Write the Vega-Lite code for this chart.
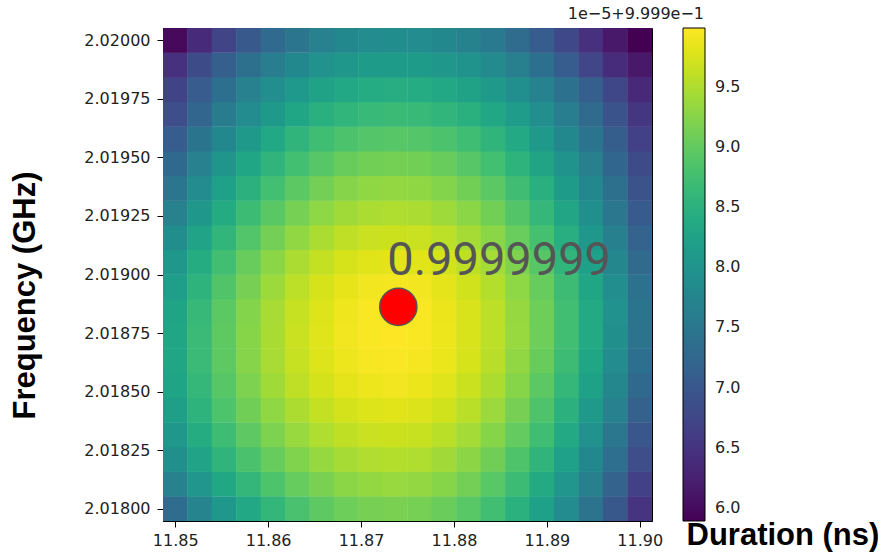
{
"$schema": "https://vega.github.io/schema/vega-lite/v6.json",
"width": 489,
"height": 493,
"autosize": {"type": "none"},
"padding": {"left": 163, "top": 28, "right": 235, "bottom": 31},
"background": "white",
"config": {"view": {"stroke": "black", "strokeWidth": 1}},
"title": {"text": "1e−5+9.999e−1", "anchor": "end", "frame": "group", "dx": 52, "fontSize": 16, "font": "DejaVu Sans", "fontWeight": "normal", "color": "#222", "offset": 6},
"datasets": {
"grid": [
{"duration":11.85,"frequency":2.018,"value":7.33},{"duration":11.852632,"frequency":2.018,"value":7.72},{"duration":11.855263,"frequency":2.018,"value":8.06},{"duration":11.857895,"frequency":2.018,"value":8.35},{"duration":11.860526,"frequency":2.018,"value":8.60},{"duration":11.863158,"frequency":2.018,"value":8.81},{"duration":11.865789,"frequency":2.018,"value":8.97},{"duration":11.868421,"frequency":2.018,"value":9.08},{"duration":11.871053,"frequency":2.018,"value":9.15},{"duration":11.873684,"frequency":2.018,"value":9.17},{"duration":11.876316,"frequency":2.018,"value":9.14},{"duration":11.878947,"frequency":2.018,"value":9.06},{"duration":11.881579,"frequency":2.018,"value":8.93},{"duration":11.884211,"frequency":2.018,"value":8.74},{"duration":11.886842,"frequency":2.018,"value":8.50},{"duration":11.889474,"frequency":2.018,"value":8.21},{"duration":11.892105,"frequency":2.018,"value":7.86},{"duration":11.894737,"frequency":2.018,"value":7.46},{"duration":11.897368,"frequency":2.018,"value":7.01},{"duration":11.9,"frequency":2.018,"value":6.50},
{"duration":11.85,"frequency":2.0181053,"value":7.68},{"duration":11.852632,"frequency":2.0181053,"value":8.03},{"duration":11.855263,"frequency":2.0181053,"value":8.34},{"duration":11.857895,"frequency":2.0181053,"value":8.61},{"duration":11.860526,"frequency":2.0181053,"value":8.84},{"duration":11.863158,"frequency":2.0181053,"value":9.03},{"duration":11.865789,"frequency":2.0181053,"value":9.17},{"duration":11.868421,"frequency":2.0181053,"value":9.28},{"duration":11.871053,"frequency":2.0181053,"value":9.34},{"duration":11.873684,"frequency":2.0181053,"value":9.36},{"duration":11.876316,"frequency":2.0181053,"value":9.33},{"duration":11.878947,"frequency":2.0181053,"value":9.25},{"duration":11.881579,"frequency":2.0181053,"value":9.12},{"duration":11.884211,"frequency":2.0181053,"value":8.93},{"duration":11.886842,"frequency":2.0181053,"value":8.69},{"duration":11.889474,"frequency":2.0181053,"value":8.39},{"duration":11.892105,"frequency":2.0181053,"value":8.04},{"duration":11.894737,"frequency":2.0181053,"value":7.63},{"duration":11.897368,"frequency":2.0181053,"value":7.17},{"duration":11.9,"frequency":2.0181053,"value":6.66},
{"duration":11.85,"frequency":2.0182105,"value":7.92},{"duration":11.852632,"frequency":2.0182105,"value":8.26},{"duration":11.855263,"frequency":2.0182105,"value":8.56},{"duration":11.857895,"frequency":2.0182105,"value":8.82},{"duration":11.860526,"frequency":2.0182105,"value":9.03},{"duration":11.863158,"frequency":2.0182105,"value":9.21},{"duration":11.865789,"frequency":2.0182105,"value":9.35},{"duration":11.868421,"frequency":2.0182105,"value":9.45},{"duration":11.871053,"frequency":2.0182105,"value":9.51},{"duration":11.873684,"frequency":2.0182105,"value":9.53},{"duration":11.876316,"frequency":2.0182105,"value":9.50},{"duration":11.878947,"frequency":2.0182105,"value":9.42},{"duration":11.881579,"frequency":2.0182105,"value":9.29},{"duration":11.884211,"frequency":2.0182105,"value":9.10},{"duration":11.886842,"frequency":2.0182105,"value":8.86},{"duration":11.889474,"frequency":2.0182105,"value":8.57},{"duration":11.892105,"frequency":2.0182105,"value":8.22},{"duration":11.894737,"frequency":2.0182105,"value":7.81},{"duration":11.897368,"frequency":2.0182105,"value":7.36},{"duration":11.9,"frequency":2.0182105,"value":6.85},
{"duration":11.85,"frequency":2.0183158,"value":8.08},{"duration":11.852632,"frequency":2.0183158,"value":8.42},{"duration":11.855263,"frequency":2.0183158,"value":8.71},{"duration":11.857895,"frequency":2.0183158,"value":8.97},{"duration":11.860526,"frequency":2.0183158,"value":9.19},{"duration":11.863158,"frequency":2.0183158,"value":9.36},{"duration":11.865789,"frequency":2.0183158,"value":9.50},{"duration":11.868421,"frequency":2.0183158,"value":9.60},{"duration":11.871053,"frequency":2.0183158,"value":9.66},{"duration":11.873684,"frequency":2.0183158,"value":9.68},{"duration":11.876316,"frequency":2.0183158,"value":9.65},{"duration":11.878947,"frequency":2.0183158,"value":9.57},{"duration":11.881579,"frequency":2.0183158,"value":9.44},{"duration":11.884211,"frequency":2.0183158,"value":9.25},{"duration":11.886842,"frequency":2.0183158,"value":9.01},{"duration":11.889474,"frequency":2.0183158,"value":8.72},{"duration":11.892105,"frequency":2.0183158,"value":8.37},{"duration":11.894737,"frequency":2.0183158,"value":7.96},{"duration":11.897368,"frequency":2.0183158,"value":7.51},{"duration":11.9,"frequency":2.0183158,"value":7.00},
{"duration":11.85,"frequency":2.0184211,"value":8.20},{"duration":11.852632,"frequency":2.0184211,"value":8.54},{"duration":11.855263,"frequency":2.0184211,"value":8.84},{"duration":11.857895,"frequency":2.0184211,"value":9.10},{"duration":11.860526,"frequency":2.0184211,"value":9.31},{"duration":11.863158,"frequency":2.0184211,"value":9.49},{"duration":11.865789,"frequency":2.0184211,"value":9.63},{"duration":11.868421,"frequency":2.0184211,"value":9.73},{"duration":11.871053,"frequency":2.0184211,"value":9.79},{"duration":11.873684,"frequency":2.0184211,"value":9.81},{"duration":11.876316,"frequency":2.0184211,"value":9.78},{"duration":11.878947,"frequency":2.0184211,"value":9.70},{"duration":11.881579,"frequency":2.0184211,"value":9.57},{"duration":11.884211,"frequency":2.0184211,"value":9.38},{"duration":11.886842,"frequency":2.0184211,"value":9.15},{"duration":11.889474,"frequency":2.0184211,"value":8.85},{"duration":11.892105,"frequency":2.0184211,"value":8.51},{"duration":11.894737,"frequency":2.0184211,"value":8.11},{"duration":11.897368,"frequency":2.0184211,"value":7.66},{"duration":11.9,"frequency":2.0184211,"value":7.15},
{"duration":11.85,"frequency":2.0185263,"value":8.28},{"duration":11.852632,"frequency":2.0185263,"value":8.62},{"duration":11.855263,"frequency":2.0185263,"value":8.92},{"duration":11.857895,"frequency":2.0185263,"value":9.19},{"duration":11.860526,"frequency":2.0185263,"value":9.41},{"duration":11.863158,"frequency":2.0185263,"value":9.59},{"duration":11.865789,"frequency":2.0185263,"value":9.73},{"duration":11.868421,"frequency":2.0185263,"value":9.83},{"duration":11.871053,"frequency":2.0185263,"value":9.89},{"duration":11.873684,"frequency":2.0185263,"value":9.91},{"duration":11.876316,"frequency":2.0185263,"value":9.88},{"duration":11.878947,"frequency":2.0185263,"value":9.80},{"duration":11.881579,"frequency":2.0185263,"value":9.67},{"duration":11.884211,"frequency":2.0185263,"value":9.49},{"duration":11.886842,"frequency":2.0185263,"value":9.25},{"duration":11.889474,"frequency":2.0185263,"value":8.96},{"duration":11.892105,"frequency":2.0185263,"value":8.62},{"duration":11.894737,"frequency":2.0185263,"value":8.23},{"duration":11.897368,"frequency":2.0185263,"value":7.78},{"duration":11.9,"frequency":2.0185263,"value":7.28},
{"duration":11.85,"frequency":2.0186316,"value":8.32},{"duration":11.852632,"frequency":2.0186316,"value":8.67},{"duration":11.855263,"frequency":2.0186316,"value":8.97},{"duration":11.857895,"frequency":2.0186316,"value":9.24},{"duration":11.860526,"frequency":2.0186316,"value":9.46},{"duration":11.863158,"frequency":2.0186316,"value":9.64},{"duration":11.865789,"frequency":2.0186316,"value":9.79},{"duration":11.868421,"frequency":2.0186316,"value":9.89},{"duration":11.871053,"frequency":2.0186316,"value":9.95},{"duration":11.873684,"frequency":2.0186316,"value":9.97},{"duration":11.876316,"frequency":2.0186316,"value":9.94},{"duration":11.878947,"frequency":2.0186316,"value":9.87},{"duration":11.881579,"frequency":2.0186316,"value":9.74},{"duration":11.884211,"frequency":2.0186316,"value":9.56},{"duration":11.886842,"frequency":2.0186316,"value":9.32},{"duration":11.889474,"frequency":2.0186316,"value":9.04},{"duration":11.892105,"frequency":2.0186316,"value":8.70},{"duration":11.894737,"frequency":2.0186316,"value":8.31},{"duration":11.897368,"frequency":2.0186316,"value":7.87},{"duration":11.9,"frequency":2.0186316,"value":7.38},
{"duration":11.85,"frequency":2.0187368,"value":8.32},{"duration":11.852632,"frequency":2.0187368,"value":8.67},{"duration":11.855263,"frequency":2.0187368,"value":8.98},{"duration":11.857895,"frequency":2.0187368,"value":9.25},{"duration":11.860526,"frequency":2.0187368,"value":9.47},{"duration":11.863158,"frequency":2.0187368,"value":9.66},{"duration":11.865789,"frequency":2.0187368,"value":9.80},{"duration":11.868421,"frequency":2.0187368,"value":9.91},{"duration":11.871053,"frequency":2.0187368,"value":9.97},{"duration":11.873684,"frequency":2.0187368,"value":9.99},{"duration":11.876316,"frequency":2.0187368,"value":9.97},{"duration":11.878947,"frequency":2.0187368,"value":9.89},{"duration":11.881579,"frequency":2.0187368,"value":9.76},{"duration":11.884211,"frequency":2.0187368,"value":9.58},{"duration":11.886842,"frequency":2.0187368,"value":9.36},{"duration":11.889474,"frequency":2.0187368,"value":9.08},{"duration":11.892105,"frequency":2.0187368,"value":8.75},{"duration":11.894737,"frequency":2.0187368,"value":8.36},{"duration":11.897368,"frequency":2.0187368,"value":7.93},{"duration":11.9,"frequency":2.0187368,"value":7.45},
{"duration":11.85,"frequency":2.0188421,"value":8.28},{"duration":11.852632,"frequency":2.0188421,"value":8.64},{"duration":11.855263,"frequency":2.0188421,"value":8.95},{"duration":11.857895,"frequency":2.0188421,"value":9.23},{"duration":11.860526,"frequency":2.0188421,"value":9.46},{"duration":11.863158,"frequency":2.0188421,"value":9.64},{"duration":11.865789,"frequency":2.0188421,"value":9.79},{"duration":11.868421,"frequency":2.0188421,"value":9.90},{"duration":11.871053,"frequency":2.0188421,"value":9.96},{"duration":11.873684,"frequency":2.0188421,"value":9.98},{"duration":11.876316,"frequency":2.0188421,"value":9.96},{"duration":11.878947,"frequency":2.0188421,"value":9.88},{"duration":11.881579,"frequency":2.0188421,"value":9.75},{"duration":11.884211,"frequency":2.0188421,"value":9.58},{"duration":11.886842,"frequency":2.0188421,"value":9.35},{"duration":11.889474,"frequency":2.0188421,"value":9.08},{"duration":11.892105,"frequency":2.0188421,"value":8.75},{"duration":11.894737,"frequency":2.0188421,"value":8.37},{"duration":11.897368,"frequency":2.0188421,"value":7.95},{"duration":11.9,"frequency":2.0188421,"value":7.47},
{"duration":11.85,"frequency":2.0189474,"value":8.18},{"duration":11.852632,"frequency":2.0189474,"value":8.55},{"duration":11.855263,"frequency":2.0189474,"value":8.87},{"duration":11.857895,"frequency":2.0189474,"value":9.15},{"duration":11.860526,"frequency":2.0189474,"value":9.39},{"duration":11.863158,"frequency":2.0189474,"value":9.58},{"duration":11.865789,"frequency":2.0189474,"value":9.74},{"duration":11.868421,"frequency":2.0189474,"value":9.84},{"duration":11.871053,"frequency":2.0189474,"value":9.91},{"duration":11.873684,"frequency":2.0189474,"value":9.93},{"duration":11.876316,"frequency":2.0189474,"value":9.91},{"duration":11.878947,"frequency":2.0189474,"value":9.83},{"duration":11.881579,"frequency":2.0189474,"value":9.70},{"duration":11.884211,"frequency":2.0189474,"value":9.53},{"duration":11.886842,"frequency":2.0189474,"value":9.30},{"duration":11.889474,"frequency":2.0189474,"value":9.03},{"duration":11.892105,"frequency":2.0189474,"value":8.70},{"duration":11.894737,"frequency":2.0189474,"value":8.32},{"duration":11.897368,"frequency":2.0189474,"value":7.90},{"duration":11.9,"frequency":2.0189474,"value":7.42},
{"duration":11.85,"frequency":2.0190526,"value":8.05},{"duration":11.852632,"frequency":2.0190526,"value":8.42},{"duration":11.855263,"frequency":2.0190526,"value":8.75},{"duration":11.857895,"frequency":2.0190526,"value":9.04},{"duration":11.860526,"frequency":2.0190526,"value":9.28},{"duration":11.863158,"frequency":2.0190526,"value":9.48},{"duration":11.865789,"frequency":2.0190526,"value":9.63},{"duration":11.868421,"frequency":2.0190526,"value":9.74},{"duration":11.871053,"frequency":2.0190526,"value":9.81},{"duration":11.873684,"frequency":2.0190526,"value":9.83},{"duration":11.876316,"frequency":2.0190526,"value":9.81},{"duration":11.878947,"frequency":2.0190526,"value":9.73},{"duration":11.881579,"frequency":2.0190526,"value":9.60},{"duration":11.884211,"frequency":2.0190526,"value":9.43},{"duration":11.886842,"frequency":2.0190526,"value":9.20},{"duration":11.889474,"frequency":2.0190526,"value":8.92},{"duration":11.892105,"frequency":2.0190526,"value":8.59},{"duration":11.894737,"frequency":2.0190526,"value":8.21},{"duration":11.897368,"frequency":2.0190526,"value":7.78},{"duration":11.9,"frequency":2.0190526,"value":7.30},
{"duration":11.85,"frequency":2.0191579,"value":7.88},{"duration":11.852632,"frequency":2.0191579,"value":8.26},{"duration":11.855263,"frequency":2.0191579,"value":8.59},{"duration":11.857895,"frequency":2.0191579,"value":8.88},{"duration":11.860526,"frequency":2.0191579,"value":9.12},{"duration":11.863158,"frequency":2.0191579,"value":9.32},{"duration":11.865789,"frequency":2.0191579,"value":9.48},{"duration":11.868421,"frequency":2.0191579,"value":9.59},{"duration":11.871053,"frequency":2.0191579,"value":9.66},{"duration":11.873684,"frequency":2.0191579,"value":9.68},{"duration":11.876316,"frequency":2.0191579,"value":9.66},{"duration":11.878947,"frequency":2.0191579,"value":9.58},{"duration":11.881579,"frequency":2.0191579,"value":9.45},{"duration":11.884211,"frequency":2.0191579,"value":9.28},{"duration":11.886842,"frequency":2.0191579,"value":9.05},{"duration":11.889474,"frequency":2.0191579,"value":8.78},{"duration":11.892105,"frequency":2.0191579,"value":8.45},{"duration":11.894737,"frequency":2.0191579,"value":8.07},{"duration":11.897368,"frequency":2.0191579,"value":7.65},{"duration":11.9,"frequency":2.0191579,"value":7.17},
{"duration":11.85,"frequency":2.0192632,"value":7.68},{"duration":11.852632,"frequency":2.0192632,"value":8.06},{"duration":11.855263,"frequency":2.0192632,"value":8.40},{"duration":11.857895,"frequency":2.0192632,"value":8.69},{"duration":11.860526,"frequency":2.0192632,"value":8.94},{"duration":11.863158,"frequency":2.0192632,"value":9.14},{"duration":11.865789,"frequency":2.0192632,"value":9.30},{"duration":11.868421,"frequency":2.0192632,"value":9.41},{"duration":11.871053,"frequency":2.0192632,"value":9.48},{"duration":11.873684,"frequency":2.0192632,"value":9.50},{"duration":11.876316,"frequency":2.0192632,"value":9.48},{"duration":11.878947,"frequency":2.0192632,"value":9.40},{"duration":11.881579,"frequency":2.0192632,"value":9.28},{"duration":11.884211,"frequency":2.0192632,"value":9.11},{"duration":11.886842,"frequency":2.0192632,"value":8.89},{"duration":11.889474,"frequency":2.0192632,"value":8.62},{"duration":11.892105,"frequency":2.0192632,"value":8.30},{"duration":11.894737,"frequency":2.0192632,"value":7.93},{"duration":11.897368,"frequency":2.0192632,"value":7.52},{"duration":11.9,"frequency":2.0192632,"value":7.05},
{"duration":11.85,"frequency":2.0193684,"value":7.48},{"duration":11.852632,"frequency":2.0193684,"value":7.87},{"duration":11.855263,"frequency":2.0193684,"value":8.21},{"duration":11.857895,"frequency":2.0193684,"value":8.51},{"duration":11.860526,"frequency":2.0193684,"value":8.76},{"duration":11.863158,"frequency":2.0193684,"value":8.96},{"duration":11.865789,"frequency":2.0193684,"value":9.12},{"duration":11.868421,"frequency":2.0193684,"value":9.24},{"duration":11.871053,"frequency":2.0193684,"value":9.31},{"duration":11.873684,"frequency":2.0193684,"value":9.33},{"duration":11.876316,"frequency":2.0193684,"value":9.31},{"duration":11.878947,"frequency":2.0193684,"value":9.23},{"duration":11.881579,"frequency":2.0193684,"value":9.11},{"duration":11.884211,"frequency":2.0193684,"value":8.95},{"duration":11.886842,"frequency":2.0193684,"value":8.73},{"duration":11.889474,"frequency":2.0193684,"value":8.47},{"duration":11.892105,"frequency":2.0193684,"value":8.15},{"duration":11.894737,"frequency":2.0193684,"value":7.79},{"duration":11.897368,"frequency":2.0193684,"value":7.39},{"duration":11.9,"frequency":2.0193684,"value":6.93},
{"duration":11.85,"frequency":2.0194737,"value":7.28},{"duration":11.852632,"frequency":2.0194737,"value":7.67},{"duration":11.855263,"frequency":2.0194737,"value":8.01},{"duration":11.857895,"frequency":2.0194737,"value":8.31},{"duration":11.860526,"frequency":2.0194737,"value":8.56},{"duration":11.863158,"frequency":2.0194737,"value":8.76},{"duration":11.865789,"frequency":2.0194737,"value":8.92},{"duration":11.868421,"frequency":2.0194737,"value":9.04},{"duration":11.871053,"frequency":2.0194737,"value":9.11},{"duration":11.873684,"frequency":2.0194737,"value":9.13},{"duration":11.876316,"frequency":2.0194737,"value":9.11},{"duration":11.878947,"frequency":2.0194737,"value":9.04},{"duration":11.881579,"frequency":2.0194737,"value":8.92},{"duration":11.884211,"frequency":2.0194737,"value":8.76},{"duration":11.886842,"frequency":2.0194737,"value":8.55},{"duration":11.889474,"frequency":2.0194737,"value":8.29},{"duration":11.892105,"frequency":2.0194737,"value":7.99},{"duration":11.894737,"frequency":2.0194737,"value":7.64},{"duration":11.897368,"frequency":2.0194737,"value":7.24},{"duration":11.9,"frequency":2.0194737,"value":6.80},
{"duration":11.85,"frequency":2.0195789,"value":7.08},{"duration":11.852632,"frequency":2.0195789,"value":7.47},{"duration":11.855263,"frequency":2.0195789,"value":7.81},{"duration":11.857895,"frequency":2.0195789,"value":8.10},{"duration":11.860526,"frequency":2.0195789,"value":8.35},{"duration":11.863158,"frequency":2.0195789,"value":8.56},{"duration":11.865789,"frequency":2.0195789,"value":8.72},{"duration":11.868421,"frequency":2.0195789,"value":8.83},{"duration":11.871053,"frequency":2.0195789,"value":8.90},{"duration":11.873684,"frequency":2.0195789,"value":8.92},{"duration":11.876316,"frequency":2.0195789,"value":8.90},{"duration":11.878947,"frequency":2.0195789,"value":8.83},{"duration":11.881579,"frequency":2.0195789,"value":8.72},{"duration":11.884211,"frequency":2.0195789,"value":8.56},{"duration":11.886842,"frequency":2.0195789,"value":8.36},{"duration":11.889474,"frequency":2.0195789,"value":8.11},{"duration":11.892105,"frequency":2.0195789,"value":7.81},{"duration":11.894737,"frequency":2.0195789,"value":7.47},{"duration":11.897368,"frequency":2.0195789,"value":7.09},{"duration":11.9,"frequency":2.0195789,"value":6.66},
{"duration":11.85,"frequency":2.0196842,"value":6.85},{"duration":11.852632,"frequency":2.0196842,"value":7.23},{"duration":11.855263,"frequency":2.0196842,"value":7.57},{"duration":11.857895,"frequency":2.0196842,"value":7.87},{"duration":11.860526,"frequency":2.0196842,"value":8.11},{"duration":11.863158,"frequency":2.0196842,"value":8.32},{"duration":11.865789,"frequency":2.0196842,"value":8.48},{"duration":11.868421,"frequency":2.0196842,"value":8.59},{"duration":11.871053,"frequency":2.0196842,"value":8.66},{"duration":11.873684,"frequency":2.0196842,"value":8.68},{"duration":11.876316,"frequency":2.0196842,"value":8.66},{"duration":11.878947,"frequency":2.0196842,"value":8.59},{"duration":11.881579,"frequency":2.0196842,"value":8.49},{"duration":11.884211,"frequency":2.0196842,"value":8.33},{"duration":11.886842,"frequency":2.0196842,"value":8.14},{"duration":11.889474,"frequency":2.0196842,"value":7.90},{"duration":11.892105,"frequency":2.0196842,"value":7.62},{"duration":11.894737,"frequency":2.0196842,"value":7.30},{"duration":11.897368,"frequency":2.0196842,"value":6.93},{"duration":11.9,"frequency":2.0196842,"value":6.52},
{"duration":11.85,"frequency":2.0197895,"value":6.70},{"duration":11.852632,"frequency":2.0197895,"value":7.06},{"duration":11.855263,"frequency":2.0197895,"value":7.38},{"duration":11.857895,"frequency":2.0197895,"value":7.66},{"duration":11.860526,"frequency":2.0197895,"value":7.90},{"duration":11.863158,"frequency":2.0197895,"value":8.09},{"duration":11.865789,"frequency":2.0197895,"value":8.24},{"duration":11.868421,"frequency":2.0197895,"value":8.35},{"duration":11.871053,"frequency":2.0197895,"value":8.41},{"duration":11.873684,"frequency":2.0197895,"value":8.43},{"duration":11.876316,"frequency":2.0197895,"value":8.41},{"duration":11.878947,"frequency":2.0197895,"value":8.35},{"duration":11.881579,"frequency":2.0197895,"value":8.24},{"duration":11.884211,"frequency":2.0197895,"value":8.10},{"duration":11.886842,"frequency":2.0197895,"value":7.91},{"duration":11.889474,"frequency":2.0197895,"value":7.69},{"duration":11.892105,"frequency":2.0197895,"value":7.42},{"duration":11.894737,"frequency":2.0197895,"value":7.11},{"duration":11.897368,"frequency":2.0197895,"value":6.75},{"duration":11.9,"frequency":2.0197895,"value":6.36},
{"duration":11.85,"frequency":2.0198947,"value":6.45},{"duration":11.852632,"frequency":2.0198947,"value":6.81},{"duration":11.855263,"frequency":2.0198947,"value":7.12},{"duration":11.857895,"frequency":2.0198947,"value":7.40},{"duration":11.860526,"frequency":2.0198947,"value":7.62},{"duration":11.863158,"frequency":2.0198947,"value":7.81},{"duration":11.865789,"frequency":2.0198947,"value":7.96},{"duration":11.868421,"frequency":2.0198947,"value":8.07},{"duration":11.871053,"frequency":2.0198947,"value":8.13},{"duration":11.873684,"frequency":2.0198947,"value":8.15},{"duration":11.876316,"frequency":2.0198947,"value":8.13},{"duration":11.878947,"frequency":2.0198947,"value":8.07},{"duration":11.881579,"frequency":2.0198947,"value":7.97},{"duration":11.884211,"frequency":2.0198947,"value":7.83},{"duration":11.886842,"frequency":2.0198947,"value":7.63},{"duration":11.889474,"frequency":2.0198947,"value":7.38},{"duration":11.892105,"frequency":2.0198947,"value":7.08},{"duration":11.894737,"frequency":2.0198947,"value":6.74},{"duration":11.897368,"frequency":2.0198947,"value":6.40},{"duration":11.9,"frequency":2.0198947,"value":6.14},
{"duration":11.85,"frequency":2.02,"value":5.97},{"duration":11.852632,"frequency":2.02,"value":6.37},{"duration":11.855263,"frequency":2.02,"value":6.72},{"duration":11.857895,"frequency":2.02,"value":7.03},{"duration":11.860526,"frequency":2.02,"value":7.29},{"duration":11.863158,"frequency":2.02,"value":7.50},{"duration":11.865789,"frequency":2.02,"value":7.67},{"duration":11.868421,"frequency":2.02,"value":7.79},{"duration":11.871053,"frequency":2.02,"value":7.86},{"duration":11.873684,"frequency":2.02,"value":7.88},{"duration":11.876316,"frequency":2.02,"value":7.86},{"duration":11.878947,"frequency":2.02,"value":7.80},{"duration":11.881579,"frequency":2.02,"value":7.70},{"duration":11.884211,"frequency":2.02,"value":7.56},{"duration":11.886842,"frequency":2.02,"value":7.32},{"duration":11.889474,"frequency":2.02,"value":7.08},{"duration":11.892105,"frequency":2.02,"value":6.78},{"duration":11.894737,"frequency":2.02,"value":6.45},{"duration":11.897368,"frequency":2.02,"value":6.15},{"duration":11.9,"frequency":2.02,"value":5.89}
],
"optimum": [{"duration": 11.87401, "frequency": 2.018862, "label": "0.9999999"}]
},
"encoding": {
"x": {"field": "duration", "type": "quantitative", "scale": {"domain": [11.848684, 11.901316], "nice": false, "zero": false},
"axis": {"values": [11.85, 11.86, 11.87, 11.88, 11.89, 11.9], "format": ".2f", "title": "Duration (ns)", "titleX": 523, "titleY": 14, "titleAlign": "left", "titleBaseline": "middle", "titleFontSize": 31, "titleFontWeight": "bold", "titleFont": "Liberation Sans", "titleColor": "black", "labelFontSize": 16, "labelFont": "DejaVu Sans", "labelColor": "#222", "tickColor": "black", "tickSize": 6, "domainColor": "black", "grid": false, "labelPadding": 5, "labelFlush": false}},
"y": {"field": "frequency", "type": "quantitative", "scale": {"domain": [2.0179474, 2.0200526], "nice": false, "zero": false},
"axis": {"values": [2.018, 2.01825, 2.0185, 2.01875, 2.019, 2.01925, 2.0195, 2.01975, 2.02], "format": ".5f", "title": "Frequency (GHz)", "titleX": -138, "titleY": 267, "titleAlign": "center", "titleBaseline": "middle", "titleAngle": 270, "titleFontSize": 31, "titleFontWeight": "bold", "titleFont": "Liberation Sans", "titleColor": "black", "labelFontSize": 16, "labelFont": "DejaVu Sans", "labelColor": "#222", "tickColor": "black", "tickSize": 6, "domainColor": "black", "grid": false, "labelPadding": 7, "labelFlush": false}}
},
"layer": [
{"data": {"name": "grid"},
"mark": {"type": "rect", "width": 24.9, "height": 25.1, "clip": true},
"encoding": {
"color": {"field": "value", "type": "quantitative", "scale": {"scheme": "viridis", "domain": [5.89, 9.99]},
"legend": {"orient": "none", "legendX": 520, "legendY": 0, "direction": "vertical", "gradientLength": 493, "gradientThickness": 22, "gradientStrokeColor": "black", "gradientStrokeWidth": 1, "values": [6, 6.5, 7, 7.5, 8, 8.5, 9, 9.5], "format": ".1f", "labelFontSize": 16, "labelFont": "DejaVu Sans", "labelColor": "#222", "labelOffset": 10, "labelOverlap": false, "title": null, "padding": 0}}}},
{"data": {"name": "optimum"},
"mark": {"type": "point", "shape": "circle", "filled": true, "size": 1385, "fill": "#ff0000", "stroke": "#555555", "strokeWidth": 1.5, "opacity": 1}},
{"data": {"name": "optimum"},
"mark": {"type": "text", "dx": -11, "dy": -32, "align": "left", "baseline": "alphabetic", "fontSize": 47, "font": "Roboto", "color": "#555555"},
"encoding": {"text": {"field": "label"}}}
]
}
